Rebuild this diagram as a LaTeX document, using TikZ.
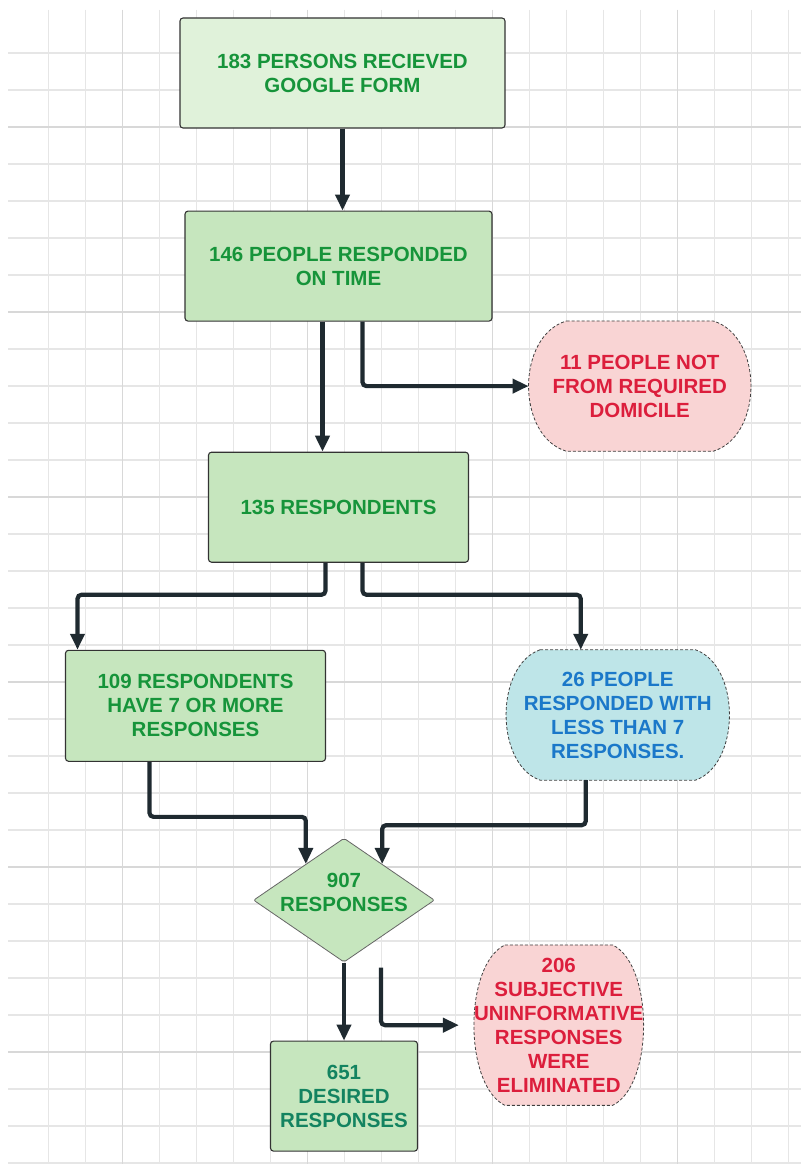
\documentclass[tikz,border=0pt]{standalone}
\usepackage{fontspec}
\setmainfont{Liberation Sans}
\usetikzlibrary{arrows.meta,positioning,calc,shapes.geometric,backgrounds}
\definecolor{gridln}{HTML}{E6E6E6}
\definecolor{gridmj}{HTML}{D8D8D8}
\definecolor{edge}{HTML}{1F2A30}
\definecolor{palegrn}{HTML}{E0F2DA}
\definecolor{boxgrn}{HTML}{C6E6BE}
\definecolor{pinkbg}{HTML}{F9D4D4}
\definecolor{cyanbg}{HTML}{BEE5E8}
\definecolor{txtgrn}{HTML}{16943A}
\definecolor{txtteal}{HTML}{138360}
\definecolor{txtred}{HTML}{DC1E3C}
\definecolor{txtblue}{HTML}{1B78C9}
\newcommand{\barrel}[4]{\path[barrelline,fill=#4] ([xshift=#2]#1.north west) -- ([xshift=-#2]#1.north east)
	.. controls +({4*#2/3},#3) and +({4*#2/3},-#3) .. ([xshift=-#2]#1.south east)
	-- ([xshift=#2]#1.south west)
	.. controls +({-4*#2/3},-#3) and +({-4*#2/3},#3) .. ([xshift=#2]#1.north west) -- cycle;}

\begin{document}
\begin{tikzpicture}[x=1pt,y=-1pt,
		font=\bfseries\fontsize{20.5}{24}\selectfont,
		box/.style={draw=black!80,line width=1.1pt,rounded corners=3pt,fill=boxgrn,
			text=txtgrn,align=center,inner sep=0pt},
		drop/.style={text=txtred,align=center,inner sep=0pt},
		barrelline/.style={draw=black!75,densely dashed,line width=0.8pt},
		flow/.style={-{Triangle[length=16pt,width=14pt]},line width=4.2pt,edge,rounded corners=4pt},
		minor/.style={gridln,line width=1.2pt},
		major/.style={gridmj,line width=1.6pt},
		]
		\useasboundingbox (0,0) rectangle (801,1164);
		\begin{scope}[on background layer]
			\fill[white] (0,0) rectangle (801,1164);
			\foreach \k in {0,...,20} {\draw[minor] ({48.6+37*\k},10) -- ({48.6+37*\k},1164);}
			\foreach \k in {0,...,30} {\draw[minor] (8,{53+37*\k}) -- (801,{53+37*\k});}
			\foreach \k in {0,...,3} {\draw[major] ({122.6+185*\k},10) -- ({122.6+185*\k},1164);}
			\foreach \k in {0,...,5} {\draw[major] (8,{127+185*\k}) -- (801,{127+185*\k});}
		\end{scope}
		
		\node[box,fill=palegrn,minimum width=325pt,minimum height=110pt] (form) at (342.5,73)
			{183 PERSONS RECIEVED\\GOOGLE FORM};
		
		\node[box,minimum width=307pt,minimum height=110pt,below=82pt of form,xshift=-4pt] (ontime)
			{146 PEOPLE RESPONDED\\ON TIME};
		
		\node[drop,minimum width=222pt,minimum height=130pt,right=36pt of ontime,yshift=-120pt] (domicile)
			{11 PEOPLE NOT\\FROM REQUIRED\\DOMICILE};
		
		\node[box,minimum width=260pt,minimum height=110pt,below=130pt of ontime] (resp)
			{135 RESPONDENTS};
		
		\node[box,minimum width=260pt,minimum height=111pt,below=87pt of resp,xshift=-143pt] (many)
			{109 RESPONDENTS\\HAVE 7 OR MORE\\RESPONSES};
		
		\node[drop,text=txtblue,minimum width=223pt,minimum height=130pt,
			right=180pt of many.north east,anchor=north west] (few)
			{26 PEOPLE\\RESPONDED WITH\\LESS THAN 7\\RESPONSES.};
		
		\node[box,diamond,draw=black!60,line width=0.8pt,rounded corners=2pt,
			minimum width=181pt,minimum height=124pt,below=275pt of resp,xshift=5.5pt,
			label={[text=txtgrn,align=center,yshift=8pt]center:907\\RESPONSES}] (total) {};
		
		\node[box,text=txtteal,minimum width=147pt,minimum height=110pt,below=78pt of total] (kept)
			{651\\DESIRED\\RESPONSES};
		
		\node[drop,minimum width=167pt,minimum height=160pt,right=39pt of total,yshift=-125pt] (cut)
			{206\\SUBJECTIVE\\UNINFORMATIVE\\RESPONSES\\WERE\\ELIMINATED};
		
		\begin{scope}[on background layer]
			\barrel{domicile}{38}{15}{pinkbg}
			\barrel{few}{34}{16}{cyanbg}
			\barrel{cut}{31}{20}{pinkbg}
		\end{scope}
		
		\draw[flow] (form.south) -- (form.south |- ontime.north);
		\draw[flow] ([xshift=-16pt]ontime.south) -- ([xshift=-16pt]ontime.south |- resp.north);
		\draw[flow] ([xshift=24pt]ontime.south) |- (domicile.west);
		\draw[flow] ([xshift=-13pt]resp.south) -- ++(0,32) -| ([xshift=-118pt]many.north);
		\draw[flow] ([xshift=24pt]resp.south) -- ++(0,32) -| ([xshift=-37pt]few.north);
		\draw[flow] ([xshift=-46pt]many.south) -- ++(0,55) -| ($(total.north)!0.42!(total.west)$);
		\draw[flow] ([xshift=-32pt]few.south) -- ++(0,45) -| ($(total.north)!0.42!(total.east)$);
		\draw[flow] (total.south) -- (kept.north);
		\coordinate (split) at ($(total.south)+(37,5)$);
		\draw[flow] (split) |- ([xshift=-15pt]cut.west);
\end{tikzpicture}
\end{document}
